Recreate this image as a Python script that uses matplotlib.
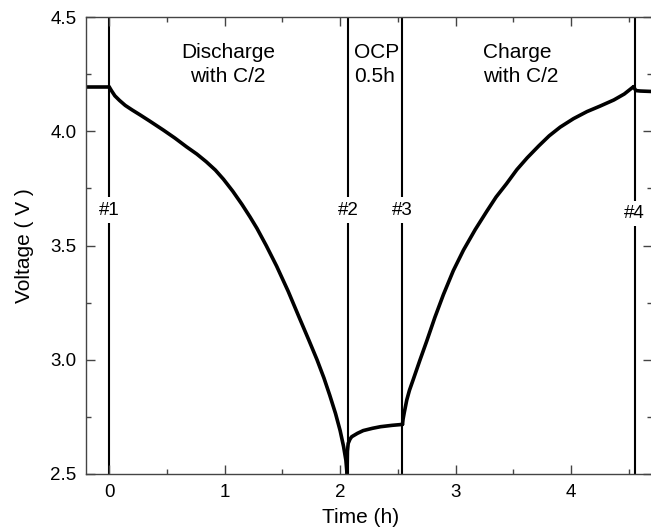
import matplotlib
matplotlib.use('Agg')
import matplotlib.pyplot as plt
from matplotlib.ticker import MultipleLocator

plt.rcParams['font.family'] = ['Liberation Sans', 'DejaVu Sans']

# Voltage curve, split by step
rest_t = [-0.2, 0.0]
rest_v = [4.195, 4.195]

dis_t = [0.0, 0.02, 0.05, 0.09, 0.14, 0.2, 0.27, 0.35, 0.47, 0.57, 0.67,
         0.76, 0.84, 0.92, 0.99, 1.07, 1.15, 1.22, 1.28, 1.36, 1.45, 1.55,
         1.65, 1.73, 1.80, 1.86, 1.91, 1.96, 2.00, 2.03, 2.05, 2.06]
dis_v = [4.195, 4.178, 4.155, 4.135, 4.113, 4.093, 4.071, 4.045, 4.005,
         3.970, 3.932, 3.900, 3.867, 3.830, 3.790, 3.738, 3.680, 3.625,
         3.575, 3.500, 3.410, 3.300, 3.180, 3.085, 3.000, 2.920, 2.845,
         2.765, 2.690, 2.620, 2.560, 2.500]

ocp_t = [2.06, 2.063, 2.07, 2.085, 2.10, 2.15, 2.20, 2.28, 2.35, 2.45, 2.54]
ocp_v = [2.50, 2.60, 2.634, 2.652, 2.663, 2.678, 2.69, 2.700, 2.707, 2.713,
         2.717]

chg_t = [2.54, 2.545, 2.555, 2.577, 2.60, 2.634, 2.69, 2.75, 2.82, 2.894,
         2.98, 3.068, 3.17, 3.27, 3.35, 3.44, 3.53, 3.62, 3.72, 3.81, 3.905,
         4.02, 4.137, 4.25, 4.37, 4.46, 4.54]
chg_v = [2.717, 2.740, 2.768, 2.824, 2.866, 2.915, 2.997, 3.082, 3.185, 3.285,
         3.39, 3.48, 3.57, 3.650, 3.712, 3.770, 3.832, 3.884, 3.936, 3.980,
         4.018, 4.055, 4.086, 4.11, 4.137, 4.163, 4.195]

end_t = [4.54, 4.56, 4.60, 4.70]
end_v = [4.195, 4.178, 4.176, 4.174]

# step markers
marker_t = [0.0, 2.07, 2.54, 4.55]
marker_labels = ['#1', '#2', '#3', '#4']
marker_v = [3.655, 3.655, 3.655, 3.64]

fig = plt.figure(figsize=(6.51, 5.30), dpi=100)
ax = fig.add_axes([86 / 651, 56 / 530, 566 / 651, 457 / 530])

for t in marker_t:
    ax.axvline(t, color='black', lw=1.5, zorder=1)
for t, v, lab in zip(marker_t, marker_v, marker_labels):
    ax.text(t, v, lab, ha='center', va='center', fontsize=13.5, zorder=3,
            bbox=dict(facecolor='white', edgecolor='none', pad=3))

for tt, vv in [(rest_t, rest_v), (dis_t, dis_v), (ocp_t, ocp_v),
               (chg_t, chg_v), (end_t, end_v)]:
    ax.plot(tt, vv, color='black', lw=2.6, solid_joinstyle='round',
            solid_capstyle='round', zorder=2)

ax.text(1.03, 4.385, 'Discharge\nwith C/2', ha='center', va='top', fontsize=15,
        linespacing=1.3)
ax.text(2.12, 4.385, 'OCP\n0.5h', ha='left', va='top', fontsize=15,
        linespacing=1.3)
ax.text(3.24, 4.385, 'Charge\nwith C/2', ha='left', va='top', fontsize=15,
        linespacing=1.3)

ax.set_xlim(-0.2, 4.7)
ax.set_ylim(2.5, 4.5)
ax.xaxis.set_major_locator(MultipleLocator(1))
ax.xaxis.set_minor_locator(MultipleLocator(0.5))
ax.yaxis.set_major_locator(MultipleLocator(0.5))
ax.yaxis.set_minor_locator(MultipleLocator(0.25))
ax.yaxis.set_major_formatter(plt.FormatStrFormatter('%.1f'))
ax.tick_params(which='both', direction='in', top=True, right=True,
               color='#444444', width=1)
ax.tick_params(which='major', length=6.5, labelsize=13.5, pad=7)
ax.tick_params(which='minor', length=3.5)
for s in ax.spines.values():
    s.set_color('#444444')
    s.set_linewidth(1)

ax.set_xlabel('Time (h)', fontsize=15)
ax.set_ylabel('Voltage ( V )', fontsize=15)
ax.xaxis.set_label_coords(0.485, -0.075)
ax.yaxis.set_label_coords(-0.092, 0.5)

plt.savefig('out.png', dpi=100)
